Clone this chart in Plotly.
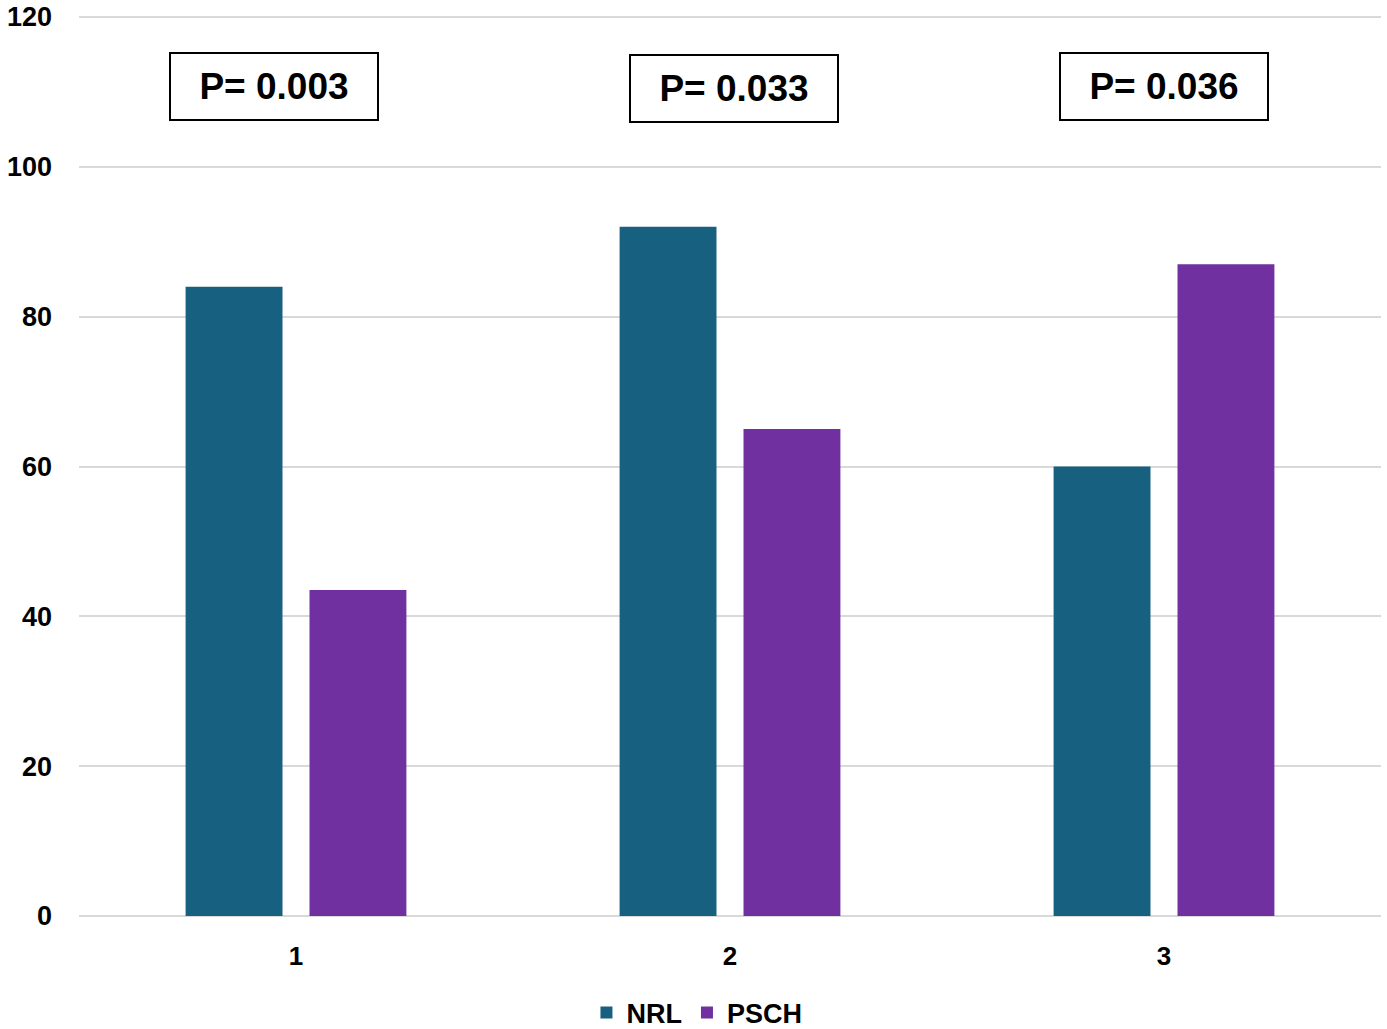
import plotly.graph_objects as go

categories = ["1", "2", "3"]
nrl_values = [84, 92, 60]
psch_values = [43.5, 65, 87]
p_labels = ["P= 0.003", "P= 0.033", "P= 0.036"]
p_x = [-0.05, 1.01, 2.0]
p_y = [110.7, 110.4, 110.7]
y_ticks = [0, 20, 40, 60, 80, 100, 120]

FONT = "Liberation Sans"

fig = go.Figure()
fig.add_trace(go.Bar(name="<b>NRL</b>", x=categories, y=nrl_values,
                     marker=dict(color="#17607F", line=dict(width=0))))
fig.add_trace(go.Bar(name="<b>PSCH</b>", x=categories, y=psch_values,
                     marker=dict(color="#7030A0", line=dict(width=0))))

for lbl, xx, yy in zip(p_labels, p_x, p_y):
    fig.add_annotation(x=xx, y=yy, xref="x", yref="y", text="<b>" + lbl + "</b>",
                       showarrow=False, font=dict(family=FONT, size=37, color="#000000"),
                       bordercolor="#000000", borderwidth=2, bgcolor="#FFFFFF",
                       width=204, height=63, align="center", valign="middle")

fig.update_layout(
    width=1387, height=1029,
    margin=dict(l=79, r=6, t=14, b=113, autoexpand=False),
    paper_bgcolor="#FFFFFF", plot_bgcolor="#FFFFFF",
    barmode="group", bargap=0.429, bargroupgap=0.218,
    font=dict(family=FONT, size=26, color="#000000"),
    showlegend=True,
    legend=dict(orientation="h", xref="container", x=0.5025, xanchor="center",
                yref="container", y=0.0155, yanchor="middle",
                font=dict(family=FONT, size=27, color="#000000"),
                itemwidth=30, traceorder="normal"),
)
fig.update_xaxes(type="category", showgrid=False, showline=False, zeroline=False,
                 ticks="", tickfont=dict(family=FONT, size=26), automargin=False,
                 ticktext=["<b>1</b>", "<b>2</b>", "<b>3</b>"], tickvals=categories,
                 ticklabelstandoff=22)
fig.update_yaxes(range=[0, 120.4], tickvals=y_ticks,
                 ticktext=["<b>%d</b>" % v for v in y_ticks],
                 showgrid=True, gridcolor="#D9D9D9", gridwidth=1.5,
                 zeroline=True, zerolinecolor="#D9D9D9", zerolinewidth=1.5,
                 showline=False, ticks="", tickfont=dict(family=FONT, size=27),
                 automargin=False, ticklabelstandoff=26, ticklabeloverflow="allow")

fig.write_html("out.html", config={"displayModeBar": False},
               post_script="document.body.style.margin='0';")
